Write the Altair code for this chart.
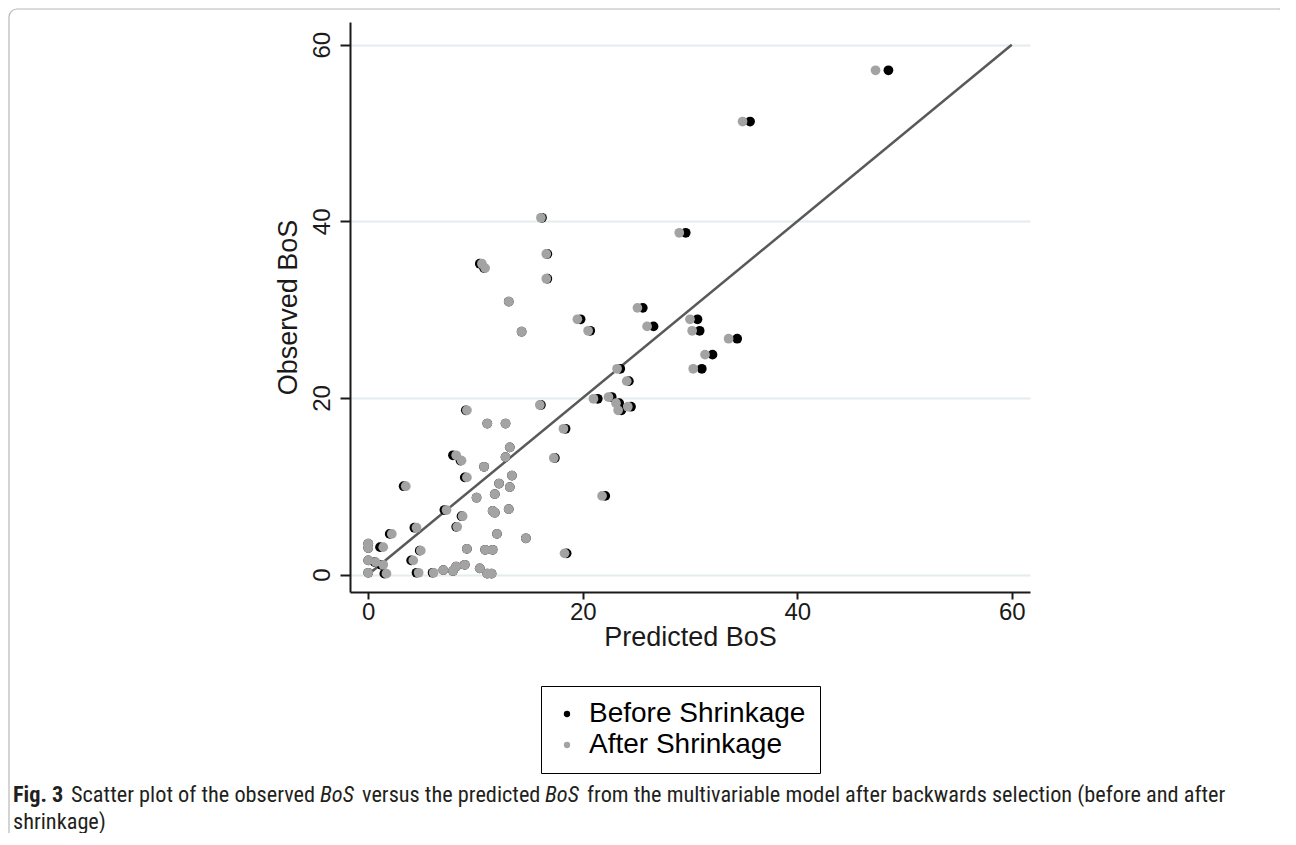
import altair as alt
import pandas as pd

# Observed BoS values (y) and predicted BoS before / after shrinkage (x)
observed = [57.1, 51.3, 40.4, 38.7, 36.3, 35.2, 34.7, 33.5, 30.9, 30.2,
            28.9, 28.9, 28.1, 27.6, 27.6, 27.5, 26.7, 24.9, 23.3, 23.3,
            21.9, 20.1, 19.9, 19.4, 19.2, 19.0, 18.6, 18.6, 17.1, 17.1,
            16.5, 14.4, 13.5, 13.3, 13.2, 12.9, 12.2, 11.2, 11.0, 10.3,
            10.0, 9.9, 9.1, 8.9, 8.7, 7.4, 7.3, 7.2, 7.0, 6.6,
            5.4, 5.3, 4.6, 4.6, 4.1, 3.5, 3.0, 3.1, 2.9, 2.8,
            2.8, 2.7, 2.4, 1.6, 1.4, 1.6, 1.1, 0.2, 0.1, 0.2,
            0.2, 0.5, 0.4, 0.9, 1.1, 0.7, 0.1, 0.1]
pred_before = [48.5, 35.6, 16.2, 29.6, 16.7, 10.4, 10.8, 16.7, 13.1, 25.6,
               19.8, 30.7, 26.6, 20.7, 30.9, 14.3, 34.4, 32.1, 23.5, 31.1,
               24.3, 22.7, 21.4, 23.4, 16.1, 24.5, 23.6, 9.1, 11.1, 12.8,
               18.4, 13.2, 7.9, 12.8, 17.4, 8.6, 10.8, 13.4, 9.0, 12.2,
               3.3, 13.2, 11.8, 22.1, 10.1, 13.1, 7.1, 11.6, 11.8, 8.7,
               8.2, 4.3, 2.0, 12.0, 14.7, 0.0, 0.0, 1.1, 9.2, 10.9,
               11.6, 4.8, 18.5, 0.0, 0.6, 4.0, 1.2, 0.0, 1.5, 4.5,
               6.0, 7.0, 7.9, 8.2, 9.0, 10.4, 11.1, 11.5]
pred_after = [47.3, 34.9, 16.1, 29.0, 16.6, 10.6, 10.9, 16.6, 13.1, 25.1,
              19.5, 30.0, 26.0, 20.5, 30.2, 14.3, 33.6, 31.4, 23.2, 30.3,
              24.1, 22.4, 21.0, 23.1, 16.0, 24.2, 23.3, 9.2, 11.1, 12.8,
              18.2, 13.2, 8.2, 12.8, 17.3, 8.7, 10.8, 13.4, 9.2, 12.2,
              3.5, 13.2, 11.8, 21.8, 10.1, 13.1, 7.3, 11.6, 11.8, 8.8,
              8.3, 4.5, 2.2, 12.0, 14.7, 0.0, 0.0, 1.4, 9.2, 10.9,
              11.6, 4.9, 18.3, 0.0, 0.7, 4.2, 1.4, 0.0, 1.7, 4.7,
              6.1, 7.0, 7.9, 8.2, 9.0, 10.4, 11.1, 11.5]
groups = ["Before Shrinkage", "After Shrinkage"]
line_x = [0, 60]
line_y = [0, 60]
ticks = [0, 20, 40, 60]

df = pd.concat([
    pd.DataFrame({"pred": pred_before, "obs": observed, "group": groups[0]}),
    pd.DataFrame({"pred": pred_after, "obs": observed, "group": groups[1]}),
], ignore_index=True)
line_df = pd.DataFrame({"x": line_x, "y": line_y})

FONT = "Liberation Sans"
CAP_FONT = "Roboto Condensed, Liberation Sans Narrow, Liberation Sans"

xs = alt.Scale(domain=[-1.7, 61.7], nice=False, zero=False)
ys = alt.Scale(domain=[-1.98, 62.57], nice=False, zero=False)

points = alt.Chart(df).mark_circle(size=95, opacity=1).encode(
    x=alt.X("pred:Q", scale=xs, title="Predicted BoS",
            axis=alt.Axis(values=ticks, grid=False, format="d",
                          tickSize=7, labelPadding=1, titlePadding=0)),
    y=alt.Y("obs:Q", scale=ys, title="Observed BoS",
            axis=alt.Axis(values=ticks, grid=True, format="d",
                          labelAngle=270, labelAlign="center",
                          labelBaseline="bottom", tickSize=10, labelPadding=6,
                          titlePadding=8)),
    color=alt.Color("group:N", scale=alt.Scale(domain=groups, range=["#000000", "#a3a3a3"]),
                    legend=alt.Legend(title=None, orient="none", legendX=191, legendY=664,
                                      strokeColor="#000000", fillColor="#ffffff",
                                      padding=14, symbolType="circle", symbolSize=40,
                                      symbolOffset=-2, labelFontSize=28, labelFont=FONT,
                                      labelColor="#000000", rowPadding=3, labelOffset=8,
                                      labelLimit=500)),
    order=alt.Order("ord:Q"),
).transform_calculate(ord="datum.group == 'Before Shrinkage' ? 0 : 1")

line = alt.Chart(line_df).mark_line(color="#595959", strokeWidth=2.5).encode(
    x=alt.X("x:Q", scale=xs), y=alt.Y("y:Q", scale=ys))

one = pd.DataFrame({"a": [0]})

frame = alt.Chart(one).mark_rect(fill="transparent", stroke="#b8b8b8", strokeWidth=1.2,
                                 cornerRadius=8).encode(
    x=alt.value(-341), x2=alt.value(936), y=alt.value(-13), y2=alt.value(900))

cap_style = dict(font=CAP_FONT, fontSize=22.3, color="#231f20", align="left", baseline="alphabetic")
caption_parts = [
    ("Fig. 3", -337, 780, "bold", "normal"),
    ("Scatter plot of the observed", -279, 780, "normal", "normal"),
    ("BoS", -30, 780, "normal", "italic"),
    ("versus the predicted", 12, 780, "normal", "normal"),
    ("BoS", 195, 780, "normal", "italic"),
    ("from the multivariable model after backwards selection (before and after", 237, 780, "normal", "normal"),
    ("shrinkage)", -337, 807, "normal", "normal"),
]
caps = []
for txt, cx, cy, fw, fs in caption_parts:
    caps.append(alt.Chart(one).mark_text(text=txt, fontWeight=fw, fontStyle=fs, **cap_style).encode(
        x=alt.value(cx), y=alt.value(cy)))

chart = alt.layer(frame, line, points, *caps).properties(
    width=680, height=570,
    autosize=alt.AutoSizeParams(type="none"),
    padding={"left": 342, "top": 14, "right": 250, "bottom": 241},
).configure_view(stroke=None).configure_axis(
    domainColor="#1a1a1a", domainWidth=2, tickColor="#1a1a1a", tickWidth=2,
    labelFont=FONT, labelFontSize=24, labelColor="#1a1a1a",
    titleFont=FONT, titleFontSize=27, titleFontWeight="normal", titleColor="#1a1a1a",
    gridColor="#e3ecee", gridWidth=2,
)

chart.save("out.html", embed_options={"renderer": "svg", "actions": False})
